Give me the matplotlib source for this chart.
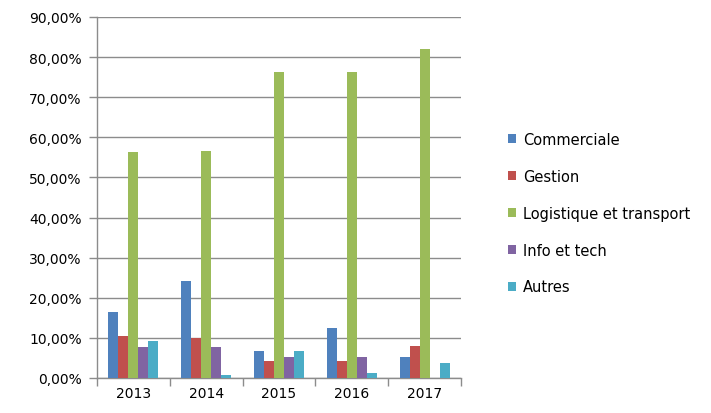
import matplotlib
matplotlib.use("Agg")
import matplotlib.pyplot as plt
import numpy as np
from matplotlib.ticker import FuncFormatter, FixedLocator
from matplotlib.patches import Patch

years = ["2013", "2014", "2015", "2016", "2017"]
series_names = ["Commerciale", "Gestion", "Logistique et transport", "Info et tech", "Autres"]
commerciale = [16.4, 24.3, 6.7, 12.4, 5.2]
gestion = [10.4, 10.0, 4.2, 4.2, 8.0]
logistique = [56.3, 56.5, 76.4, 76.4, 82.0]
info_tech = [7.65, 7.65, 5.2, 5.2, 0.0]
autres = [9.2, 0.75, 6.8, 1.15, 3.8]
colors = ["#4F81BD", "#C0504D", "#9BBB59", "#8064A2", "#4BACC6"]

plt.rcParams['font.family'] = ['DejaVu Sans']
fig = plt.figure(figsize=(7.11, 4.14), dpi=100)
ax = fig.add_axes([97/711, 1 - 379/414, (461-97)/711, (379-18)/414])

data = [commerciale, gestion, logistique, info_tech, autres]
x = np.arange(len(years))
w = 0.137
for i, (vals, c) in enumerate(zip(data, colors)):
    ax.bar(x + (i - 2) * w, vals, width=w, color=c, edgecolor='none', zorder=3)

ax.set_xlim(-0.5, len(years) - 0.5)
ax.set_ylim(0, 90)
ax.set_yticks(np.arange(0, 91, 10))
ax.yaxis.set_major_formatter(FuncFormatter(lambda v, p: f"{v:.2f}".replace('.', ',') + "%"))
ax.grid(axis='y', color='#8c8c8c', linewidth=1, zorder=0)
ax.set_axisbelow(True)

ax.set_xticks(x)
ax.set_xticklabels(years)
ax.xaxis.set_minor_locator(FixedLocator(np.arange(-0.5, len(years), 1)))
ax.tick_params(axis='x', which='major', length=0, labelsize=10, pad=6, colors='black')
ax.tick_params(axis='x', which='minor', length=6, color='#8c8c8c', width=1)
ax.tick_params(axis='y', length=6, color='#8c8c8c', width=1, labelsize=10, pad=5)

for s in ['top', 'right']:
    ax.spines[s].set_visible(False)
for s in ['left', 'bottom']:
    ax.spines[s].set_color('#8c8c8c')
    ax.spines[s].set_linewidth(1)

handles = [Patch(facecolor=c, edgecolor='none') for c in colors]
leg = fig.legend(handles, series_names, loc='upper left', bbox_to_anchor=(508/711, 1 - 133/414),
                 frameon=False, fontsize=10.5, handlelength=0.55, handleheight=0.55,
                 handletextpad=0.5, labelspacing=1.5, borderaxespad=0, borderpad=0)

fig.savefig("out.png", dpi=100)
